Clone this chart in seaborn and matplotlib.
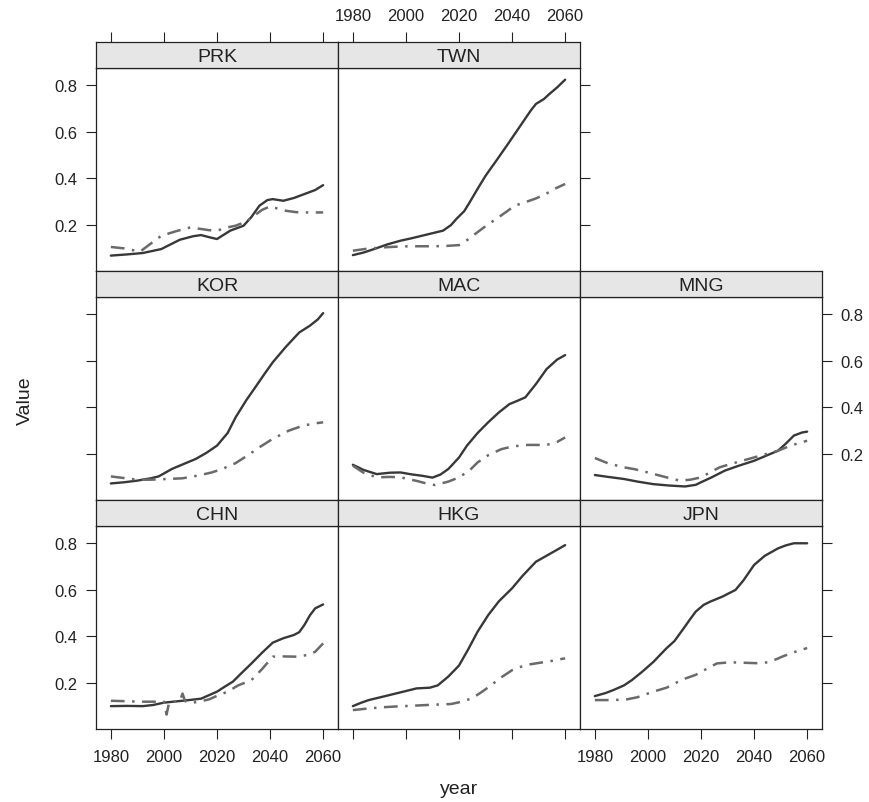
import numpy as np
import pandas as pd
import matplotlib
matplotlib.use("Agg")
import matplotlib.pyplot as plt
import seaborn as sns

# values (solid = series A, dash-dot = series B)
PRK_YEARS_A = [1980, 1986, 1992, 1999, 2006, 2011, 2014, 2017, 2020, 2025, 2030, 2033, 2036, 2039, 2041, 2045, 2049, 2053, 2057, 2060]
PRK_A = [.069, .074, .080, .097, .137, .152, .157, .148, .140, .176, .197, .235, .283, .307, .311, .304, .316, .333, .350, .371]
PRK_YEARS_B = [1980, 1985, 1991, 1995, 1999, 2005, 2010, 2014, 2017, 2020, 2024, 2027, 2031, 2034, 2037, 2040, 2043, 2046, 2050, 2053, 2060]
PRK_B = [.106, .100, .086, .120, .154, .175, .190, .183, .178, .176, .190, .197, .215, .240, .265, .280, .270, .261, .255, .254, .254]

TWN_YEARS_A = [1980, 1984, 1988, 1993, 1998, 2002, 2006, 2010, 2014, 2017, 2019, 2022, 2024, 2027, 2030, 2034, 2038, 2041, 2044, 2047, 2049, 2052, 2054, 2057, 2060]
TWN_A = [.071, .082, .097, .117, .133, .143, .154, .165, .176, .200, .226, .260, .297, .355, .411, .475, .540, .590, .640, .690, .719, .740, .761, .790, .823]
TWN_YEARS_B = [1980, 1985, 1991, 1996, 2001, 2006, 2011, 2016, 2020, 2023, 2026, 2030, 2034, 2038, 2041, 2045, 2049, 2053, 2056, 2060]
TWN_B = [.090, .098, .104, .107, .109, .109, .109, .111, .114, .135, .161, .195, .226, .258, .283, .298, .314, .335, .355, .376]

KOR_YEARS_A = [1980, 1985, 1990, 1995, 1998, 2003, 2008, 2012, 2016, 2020, 2024, 2027, 2031, 2034, 2038, 2041, 2046, 2051, 2055, 2058, 2060]
KOR_A = [.074, .079, .086, .096, .104, .136, .160, .179, .205, .236, .290, .357, .430, .479, .545, .593, .660, .721, .750, .777, .804]
KOR_YEARS_B = [1980, 1985, 1990, 1995, 2001, 2007, 2013, 2018, 2022, 2027, 2031, 2036, 2041, 2047, 2052, 2056, 2060]
KOR_B = [.104, .097, .090, .090, .093, .096, .108, .121, .136, .161, .190, .229, .265, .300, .320, .330, .336]

MAC_YEARS_A = [1980, 1984, 1989, 1994, 1998, 2002, 2006, 2010, 2013, 2016, 2020, 2023, 2027, 2031, 2035, 2039, 2042, 2045, 2049, 2053, 2057, 2060]
MAC_A = [.154, .132, .114, .120, .121, .113, .107, .099, .112, .136, .185, .236, .290, .336, .378, .414, .428, .443, .500, .564, .605, .624]
MAC_YEARS_B = [1980, 1984, 1989, 1994, 1998, 2004, 2008, 2011, 2016, 2020, 2024, 2027, 2031, 2036, 2040, 2045, 2050, 2053, 2057, 2060]
MAC_B = [.150, .120, .100, .102, .100, .085, .073, .067, .082, .100, .130, .164, .195, .221, .232, .239, .239, .239, .252, .271]

MNG_YEARS_A = [1980, 1985, 1991, 1996, 2002, 2008, 2014, 2018, 2020, 2024, 2029, 2034, 2040, 2045, 2049, 2052, 2055, 2058, 2060]
MNG_A = [.110, .102, .093, .082, .071, .065, .061, .068, .079, .100, .129, .149, .171, .195, .214, .245, .279, .292, .296]
MNG_YEARS_B = [1980, 1985, 1991, 1995, 2000, 2006, 2012, 2016, 2020, 2024, 2027, 2032, 2038, 2043, 2049, 2054, 2060]
MNG_B = [.183, .160, .143, .135, .121, .103, .086, .090, .100, .125, .143, .160, .179, .195, .214, .237, .257]

CHN_YEARS_A = [1980, 1986, 1992, 1996, 2000, 2007, 2011, 2014, 2017, 2020, 2023, 2026, 2029, 2033, 2037, 2041, 2045, 2049, 2051, 2053, 2055, 2057, 2060]
CHN_A = [.101, .102, .101, .106, .116, .124, .129, .133, .148, .163, .185, .206, .240, .284, .330, .373, .392, .406, .418, .450, .490, .520, .537]
CHN_YEARS_B = [1980, 1986, 1991, 1995, 2000, 2001, 2002, 2006, 2007, 2008, 2011, 2014, 2017, 2020, 2024, 2028, 2033, 2037, 2041, 2045, 2050, 2054, 2057, 2060]
CHN_B = [.124, .122, .120, .120, .120, .065, .120, .122, .155, .122, .116, .122, .130, .145, .163, .190, .213, .260, .313, .314, .313, .320, .334, .370]

HKG_YEARS_A = [1980, 1983, 1986, 1990, 1994, 1999, 2004, 2009, 2012, 2016, 2020, 2023.5, 2027, 2031, 2035, 2040, 2044, 2049, 2054, 2060]
HKG_A = [.101, .115, .127, .138, .149, .163, .177, .180, .190, .228, .275, .345, .420, .491, .550, .606, .660, .720, .752, .791]
HKG_YEARS_B = [1980, 1985, 1991, 1997, 2003, 2010, 2017, 2021, 2025, 2029, 2032, 2036, 2040, 2045, 2050, 2055, 2060]
HKG_B = [.084, .090, .096, .100, .103, .107, .110, .120, .135, .165, .190, .225, .255, .277, .286, .295, .306]

JPN_YEARS_A = [1980, 1984, 1987, 1991, 1994, 1998, 2002, 2007, 2010, 2013, 2016, 2018, 2021, 2023.5, 2028, 2033, 2036, 2040, 2044, 2049, 2052, 2055, 2060]
JPN_A = [.144, .157, .170, .190, .213, .250, .290, .349, .380, .427, .475, .506, .535, .549, .570, .599, .640, .706, .745, .777, .790, .799, .799]
JPN_YEARS_B = [1980, 1987, 1992, 1996, 2002, 2007, 2013, 2018, 2022, 2026, 2031, 2036, 2041, 2045.5, 2049, 2051, 2055, 2060]
JPN_B = [.127, .127, .130, .139, .163, .180, .215, .235, .260, .284, .289, .287, .285, .289, .305, .315, .332, .350]

X_TICKS = [1980, 2000, 2020, 2040, 2060]
Y_TICKS = [0.2, 0.4, 0.6, 0.8]

panels = {
    "PRK": (PRK_YEARS_A, PRK_A, PRK_YEARS_B, PRK_B),
    "TWN": (TWN_YEARS_A, TWN_A, TWN_YEARS_B, TWN_B),
    "KOR": (KOR_YEARS_A, KOR_A, KOR_YEARS_B, KOR_B),
    "MAC": (MAC_YEARS_A, MAC_A, MAC_YEARS_B, MAC_B),
    "MNG": (MNG_YEARS_A, MNG_A, MNG_YEARS_B, MNG_B),
    "CHN": (CHN_YEARS_A, CHN_A, CHN_YEARS_B, CHN_B),
    "HKG": (HKG_YEARS_A, HKG_A, HKG_YEARS_B, HKG_B),
    "JPN": (JPN_YEARS_A, JPN_A, JPN_YEARS_B, JPN_B),
}
# (row, col) in the lattice layout
grid_pos = {"PRK": (0, 0), "TWN": (0, 1),
            "KOR": (1, 0), "MAC": (1, 1), "MNG": (1, 2),
            "CHN": (2, 0), "HKG": (2, 1), "JPN": (2, 2)}

sns.set_style("white")
plt.rcParams["font.family"] = ["Liberation Sans", "DejaVu Sans"]

W, H = 869, 803
fig = plt.figure(figsize=(W / 100, H / 100), dpi=100)

col_left = [96, 338, 580]
strip_top = [43, 272, 501]
pw, ph, sh = 242, 203, 26
frame_col = "#222222"
tick_kw = dict(direction="out", length=7.5, width=0.8, color=frame_col,
               labelsize=12, labelcolor="#222222")

def rect(l, t, w, h):
    return [l / W, 1 - (t + h) / H, w / W, h / H]

for name, (xa, ya, xb, yb) in panels.items():
    r, c = grid_pos[name]
    ax = fig.add_axes(rect(col_left[c], strip_top[r] + sh, pw, ph))
    st = fig.add_axes(rect(col_left[c], strip_top[r], pw, sh))

    df_a = pd.DataFrame({"year": xa, "value": ya})
    df_b = pd.DataFrame({"year": xb, "value": yb})
    sns.lineplot(data=df_a, x="year", y="value", ax=ax, color="#383838",
                 lw=1.7, solid_capstyle="round")
    sns.lineplot(data=df_b, x="year", y="value", ax=ax, color="#6a6a6a",
                 lw=1.8, linestyle=(0, (5.5, 3, 1, 3)))

    for a in (ax, st):
        a.set_xlim(1974.4, 2065.6)
        a.set_xticks(X_TICKS)
        for s in a.spines.values():
            s.set_color(frame_col)
            s.set_linewidth(0.9)
            s.set_visible(True)
        a.set_xlabel("")
        a.set_ylabel("")
    ax.set_ylim(0.003, 0.873)
    ax.set_yticks(Y_TICKS)
    ax.set_yticklabels(["0.2", "0.4", "0.6", "0.8"])
    ax.set_xticklabels([str(x) for x in X_TICKS])

    st.set_facecolor("#e6e6e6")
    st.set_yticks([])
    st.set_xticklabels([str(x) for x in X_TICKS])
    st.text(0.5, 0.45, name, transform=st.transAxes, ha="center", va="center",
            fontsize=14, color="#222222")

    left = (c == 0)
    bottom = (r == 2)
    top = (r == 0)
    right = (name in ("TWN", "MNG", "JPN"))

    ax.tick_params(axis="y", left=left, labelleft=(left and r != 1),
                   right=right, labelright=(name == "MNG"), pad=6, **tick_kw)
    ax.tick_params(axis="x", bottom=bottom, labelbottom=(bottom and c != 1),
                   top=False, labeltop=False, pad=7, **tick_kw)
    st.tick_params(axis="x", bottom=False, labelbottom=False, top=top,
                   labeltop=(name == "TWN"), pad=6, **tick_kw)

fig.text(25 / W, 1 - 401 / H, "Value", rotation=90, ha="center", va="center",
         fontsize=14, color="#222222")
fig.text(459 / W, 1 - 790 / H, "year", ha="center", va="center",
         fontsize=14, color="#222222")

fig.savefig("out.png", dpi=100)
